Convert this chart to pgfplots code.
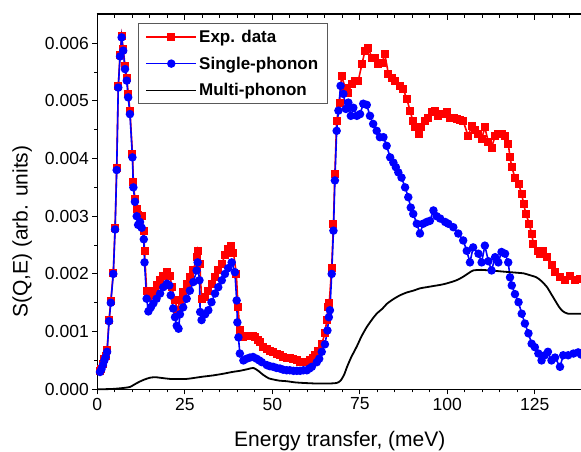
\documentclass[border=0pt]{standalone}
\usepackage{pgfplots}
\pgfplotsset{compat=1.18}
\usepackage{fontspec}
\setmainfont{Liberation Sans}
\begin{document}
\begin{tikzpicture}
\begin{axis}[name=main, scale only axis, width=485pt, height=375pt, clip=false,
 xmin=0, xmax=138.57, ymin=0, ymax=0.0065,
 axis x line*=bottom, axis y line*=left,
 xtick={0,25,...,125}, minor x tick num=4,
 ytick={0,0.001,0.002,0.003,0.004,0.005,0.006}, minor y tick num=1,
 tick align=outside,
 major tick length=5pt, minor tick length=3pt,
 every tick/.style={black, line width=0.9pt},
 axis line style={line width=1.2pt, -},
 scaled y ticks=false,
 yticklabel style={/pgf/number format/.cd, fixed, fixed zerofill, precision=3},
 /pgf/number format/assume math mode=true,
 ticklabel style={font=\fontsize{17.5}{20}\selectfont},
 xlabel={Energy transfer, (meV)}, ylabel={S(Q,E) (arb. units)},
 label style={font=\fontsize{21}{24}\selectfont},
 xlabel style={at={(axis description cs:0.5,-0.152)}, anchor=base},
 ylabel style={at={(axis description cs:-0.155,0.42)}, anchor=center},
 legend style={at={(axis description cs:0.0839,0.9755)}, anchor=north west, draw=gray!70!black, line width=0.8pt, font=\bfseries\fontsize{17}{20}\selectfont, inner xsep=7pt, inner ysep=4pt, row sep=9pt, cells={anchor=west}},
 legend image code/.code={\draw[mark repeat=2,mark phase=2,#1] plot coordinates {(0pt,0pt)(25pt,0pt)(50pt,0pt)};},
]
\addplot[red, line width=1.6pt, mark=square*, mark size=3.2pt, mark options={solid}] coordinates {
(0.77,0.00031)(1.2,0.00036)(1.6,0.00043)(2.0,0.00052)(2.4,0.00058)(2.8,0.00068)(3.36,0.0012)(3.86,0.00153)(4.57,0.00202)(5.08,0.0028)(5.54,0.00383)(5.99,0.00525)(6.5,0.0058)(6.95,0.00612)(7.41,0.0059)(7.92,0.0056)(8.42,0.0054)(8.83,0.00512)(9.33,0.00483)(10.04,0.00408)(10.3,0.0036)(10.75,0.0033)(11.26,0.00312)(11.66,0.00302)(12.2,0.003)(12.68,0.003)(13.28,0.00275)(13.49,0.0024)(14.1,0.0017)(14.6,0.0016)(15.3,0.00163)(16.42,0.0017)(17.2,0.0018)(17.94,0.00189)(18.86,0.00197)(19.87,0.00203)(20.78,0.00197)(21.29,0.00177)(22.2,0.00154)(22.91,0.00137)(23.62,0.00154)
(24.53,0.00168)(25.54,0.00183)(26.45,0.00194)(27.46,0.00206)(28.38,0.00229)(28.68,0.0024)(29.29,0.00218)(29.79,0.00157)(30.81,0.0016)(31.72,0.00171)(32.63,0.00183)(33.64,0.00194)(34.56,0.00206)(35.57,0.00218)(36.48,0.00232)(37.39,0.00244)(38.2,0.00249)(38.91,0.00237)(39.72,0.002)(40.23,0.00142)(40.73,0.00102)(41.75,0.0009)(42.7,0.00092)(43.67,0.00093)(44.4,0.00093)(45.09,0.0009)(45.8,0.00086)(46.51,0.00082)(47.42,0.00073)(48.4,0.0007)(49.34,0.00067)(50.3,0.00064)(51.27,0.00062)(52.2,0.00059)(53.19,0.00056)(54.1,0.00055)(55.02,0.00054)(56,0.00052)(56.94,0.0005)(57.9,0.00048)(58.87,0.00047)(59.8,0.00048)(60.79,0.0005)(61.5,0.00055)(62.21,0.00059)(63.12,0.00067)(64.13,0.00079)(65.04,0.00097)(65.55,0.0012)(65.95,0.00142)(66.26,0.00149)(66.97,0.00211)(67.47,0.00287)(67.88,0.00374)(68.39,0.00465)(69.2,0.00497)(69.8,0.00543)(70.82,0.00523)(71.73,0.00514)(72.64,0.00529)(73.65,0.00535)(74.57,0.00535)(75.58,0.00563)(76.49,0.00587)(77.4,0.00592)(78.42,0.00575)(79.33,0.00575)(80.34,0.00563)(81.25,0.00565)(82.16,0.00581)(83.18,0.00546)(84.09,0.0054)(85.1,0.00535)(86.52,0.00526)(87.43,0.0052)(88.44,0.00503)(89.35,0.00483)(90.16,0.00465)(90.77,0.00454)(91.79,0.00443)(92.5,0.00454)(93.71,0.00465)(94.62,0.00471)(95.63,0.0048)(96.55,0.00483)(97.46,0.00474)(98.47,0.00477)(99.79,0.0048)(100.8,0.00471)(101.8,0.0047)(102.72,0.00469)(103.6,0.00467)(104.54,0.00465)(105.96,0.00439)(106.98,0.00457)(107.89,0.0045)(108.9,0.00443)(109.81,0.00434)(110.73,0.00454)(111.74,0.00428)(112.65,0.00419)(113.66,0.00439)(114.58,0.00442)(115.49,0.00442)(116.5,0.00439)(117.41,0.00426)(117.92,0.00402)(118.42,0.00385)(119.34,0.00367)(120.35,0.00356)(121.26,0.00339)(121.77,0.00322)(122.47,0.00304)(123.39,0.00287)(124.1,0.0027)(124.6,0.00252)(125.82,0.0024)(126.53,0.00235)(127.44,0.0024)(128.45,0.00229)(129.77,0.00215)(130.78,0.00203)(132.2,0.00194)(133.61,0.00189)(135.14,0.00196)(136.45,0.00189)(137.87,0.00191)
};
\addlegendentry{Exp. data}
\addplot[blue, line width=1.6pt, mark=*, mark size=3.4pt, mark options={solid}] coordinates {
(0.77,0.0003)(1.2,0.00035)(1.6,0.00042)(2.0,0.0005)(2.4,0.00056)(2.8,0.00065)(3.36,0.00118)(3.86,0.0015)(4.57,0.002)(5.08,0.00277)(5.54,0.0038)(5.99,0.00523)(6.5,0.00577)(6.95,0.0061)(7.41,0.00587)(7.92,0.00555)(8.42,0.00535)(8.83,0.00506)(9.33,0.00477)(10.04,0.00402)(10.3,0.0035)(10.75,0.00325)(11.26,0.003)(11.66,0.00285)(12.2,0.0029)(12.68,0.0028)(13.28,0.0026)(13.49,0.0022)(14.1,0.00157)(14.6,0.00135)(15.3,0.00142)(16.02,0.00149)(16.93,0.00157)(17.94,0.00166)(18.86,0.00177)(19.87,0.00183)(20.58,0.0018)(20.98,0.00163)(21.69,0.0014)(22.2,0.00125)(22.7,0.0011)(23.21,0.00105)(23.62,0.0013)(24.53,0.00142)(25.54,0.00157)(26.45,0.00171)(27.46,0.00186)(28.38,0.00206)(28.68,0.0022)(29.19,0.00189)(29.39,0.00134)(29.79,0.0012)(30.81,0.0013)(31.72,0.00137)(32.63,0.00151)(33.64,0.00166)(34.56,0.00177)(35.57,0.00189)(36.48,0.002)(37.39,0.0021)(38.4,0.0022)(39.31,0.00203)(39.82,0.00154)(40.02,0.00116)(40.33,0.0009)(40.73,0.00062)(41.75,0.0005)(42.66,0.00053)(43.6,0.00055)(44.5,0.00056)(45.5,0.00053)(46.3,0.0005)(47.01,0.00047)(48.43,0.00042)(49.3,0.0004)(50.26,0.00039)(51.2,0.00037)(52.18,0.00036)(53.1,0.00034)(54.1,0.00033)(55,0.00033)(56.03,0.00032)(57,0.00032)(57.95,0.00032)(58.9,0.00033)(59.88,0.00033)(60.6,0.00036)(61.3,0.00039)(62.71,0.00047)(63.4,0.00053)(64.13,0.00065)(65.04,0.00078)(65.75,0.00102)(66.16,0.00125)(66.46,0.00137)(66.97,0.002)(67.47,0.00275)(67.88,0.00362)(68.39,0.00448)(68.89,0.00483)(69.5,0.00526)(70.31,0.00512)(71.02,0.00486)(71.73,0.00497)(72.44,0.00474)(73.15,0.00488)(74.16,0.00474)(75.07,0.00477)(75.98,0.00495)(76.99,0.00493)(77.91,0.00474)(78.82,0.0046)(79.83,0.00448)(80.74,0.00437)(81.76,0.00437)(82.67,0.00422)(83.68,0.00402)(84.59,0.00393)(85.3,0.00385)(86.01,0.00376)(86.92,0.00367)(87.94,0.0035)(88.85,0.00333)(89.56,0.00315)(90.27,0.00304)(91.28,0.00287)(92.19,0.0027)(93.1,0.00287)(94.11,0.0029)(95.03,0.00292)(96.04,0.0031)(96.95,0.003)(97.96,0.00296)(99.38,0.0029)(100.29,0.00287)(101.71,0.00281)(103.13,0.0027)(104.54,0.00258)(105.56,0.0024)(106.47,0.0022)(107.38,0.00246)(108.9,0.00235)(109.81,0.0022)(110.73,0.00249)(111.74,0.00222)(112.65,0.00206)(113.66,0.00229)(114.58,0.0022)(115.49,0.00238)(116.5,0.00235)(117.41,0.0022)(117.92,0.00194)(118.42,0.0018)(119.34,0.00165)(120.35,0.00151)(121.26,0.00131)(122.17,0.00114)(123.19,0.00097)(124.1,0.00079)(125.01,0.00073)(126.02,0.00062)(126.93,0.0005)(127.84,0.00059)(128.75,0.00065)(129.77,0.0005)(130.78,0.00055)(132.2,0.00039)(133.11,0.00059)(134.53,0.00059)(136.05,0.00062)(137.37,0.00064)(138.3,0.0006)
};
\addlegendentry{Single-phonon}
\addplot[black, line width=1.8pt, smooth, tension=0.4] coordinates {
(0,0)(4,0.000005)(7,0.00002)(9.3,0.00004)(10.5,0.00008)(12,0.00013)(13.5,0.00017)(15,0.0002)(16.5,0.00021)(18,0.0002)(20.8,0.00018)(23,0.00018)(25.5,0.00018)(28,0.0002)(30.3,0.00022)(33,0.00024)(36,0.00027)(38.5,0.0003)(40.7,0.00032)(43,0.00035)(44.6,0.00037)(46,0.00032)(47.4,0.00025)(49,0.00019)(50.3,0.00017)(52,0.00015)(54.1,0.00014)(56.5,0.00012)(58.9,0.00011)(62.7,0.0001)(66,0.0001)(68.4,0.00011)(69.5,0.00015)(70.5,0.00025)(71.3,0.00038)(72.5,0.00055)(74.2,0.00075)(75.5,0.00092)(77,0.00108)(78.5,0.00121)(79.8,0.00131)(81.5,0.0014)(82.7,0.00148)(84.5,0.00156)(86.5,0.00163)(88.5,0.00168)(90.3,0.00171)(92.2,0.00175)(94.1,0.00177)(96,0.00179)(98,0.00181)(99.5,0.00183)(101.7,0.00187)(103,0.0019)(104.5,0.00195)(106,0.00201)(107.4,0.00206)(109.8,0.00207)(112,0.00206)(114.2,0.00205)(116,0.00204)(118,0.00203)(120,0.00202)(121.8,0.00201)(123.5,0.00198)(125.5,0.00194)(127,0.00187)(128.5,0.00177)(129.7,0.00165)(130.8,0.00154)(131.8,0.00144)(132.7,0.00137)(133.6,0.00133)(134.5,0.00131)(136,0.00131)(138.5,0.00131)
};
\addlegendentry{Multi-phonon}
\draw[black, line width=2pt] (axis cs:-0.2,0.0065) -- (axis cs:140,0.0065);
\pgfplotsinvokeforeach{5,10,15,20,30,35,40,45,55,60,65,70,80,85,90,95,105,110,115,120,130,135}{\draw[black, line width=1.2pt] (axis cs:#1,0.0065) -- ++(0pt,-3.5pt);}
\pgfplotsinvokeforeach{25,50,75,100,125}{\draw[black, line width=1.2pt] (axis cs:#1,0.0065) -- ++(0pt,-5.5pt);}
\end{axis}
\pgfresetboundingbox
\useasboundingbox ([xshift=-97.3pt,yshift=-62.7pt]main.south west) rectangle ([xshift=-1.3pt,yshift=14.3pt]main.north east);
\end{tikzpicture}
\end{document}
